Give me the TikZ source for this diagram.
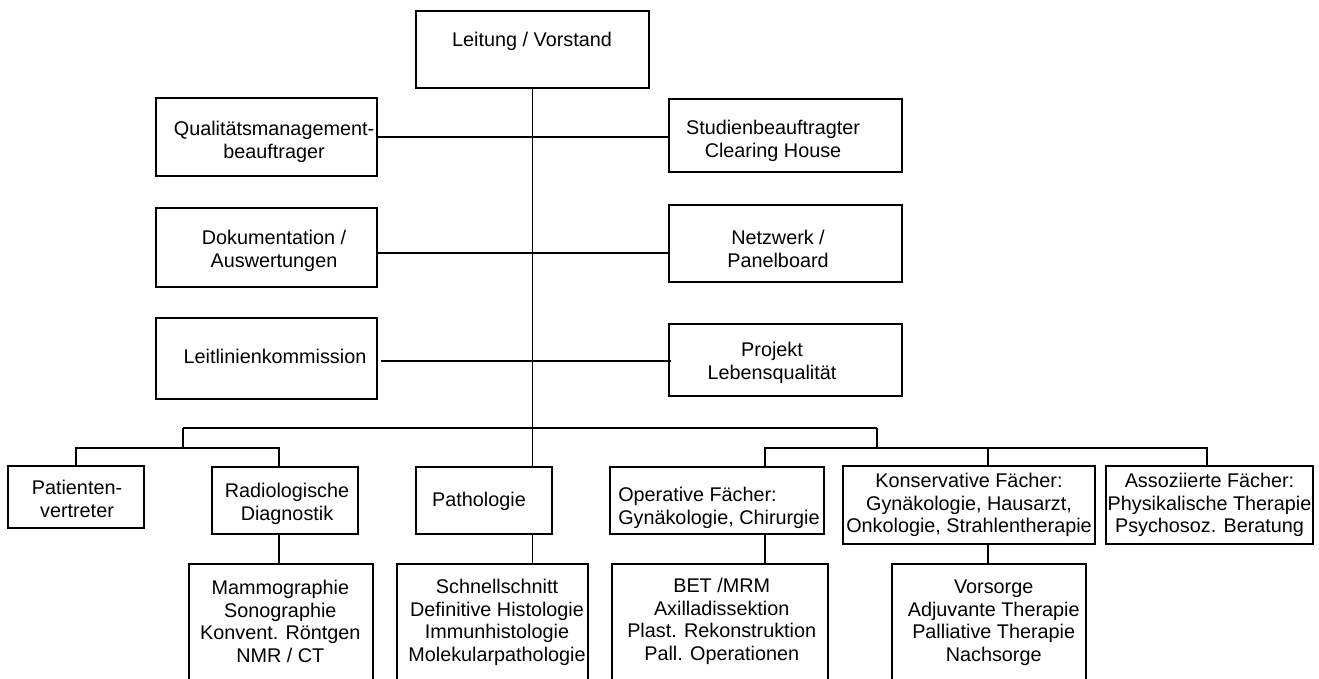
\documentclass[tikz,border=0pt]{standalone}
\usepackage{fontspec}
\setmainfont{Liberation Sans}
\usetikzlibrary{calc}
\begin{document}
\begin{tikzpicture}[x=0.75pt,y=-0.75pt,
  bx/.style 2 args={draw,line width=1.4pt,inner sep=0pt,minimum width=#1*0.75pt,minimum height=#2*0.75pt},
  txt/.style={inner sep=0pt,align=center,anchor=north,font=\fontsize{14.85pt}{16.95pt}\selectfont},
  conn/.style={line width=1.4pt}]
\useasboundingbox (0,0) rectangle (1319,678);
\fill[white] (0,0) rectangle (1319,678);
\clip (0,0) rectangle (1319,678);
% boxes
\node[bx={233}{77}] (lv) at (532.5,49.5) {};
\node[bx={221}{78}] (qm) at (266.5,137) {};
\node[bx={233}{73}] (sb) at (785.5,135.5) {};
\node[bx={221}{79}] (dk) at (266.5,247.5) {};
\node[bx={233}{77}] (nw) at (785.5,243.5) {};
\node[bx={221}{81}] (ll) at (266.5,358.5) {};
\node[bx={233}{72}] (pj) at (785.5,360) {};
\node[bx={136}{62}] (pv) at (76,497) {};
\node[bx={146}{67}] (rd) at (285,500.5) {};
\node[bx={136}{67}] (pa) at (484,500.5) {};
\node[bx={214}{67}] (op) at (717,500.5) {};
\node[bx={252}{78}] (ko) at (969,505) {};
\node[bx={207}{78}] (as) at (1209.5,505) {};
\node[bx={184}{140}] (mg) at (281,634) {};
\node[bx={191}{140}] (sc) at (492.5,634) {};
\node[bx={216}{140}] (bet) at (720,634) {};
\node[bx={194}{140}] (vs) at (989,634) {};
% texts
\node[txt] (lv-t) at (532,31.8) {Leitung / Vorstand};
\node[txt] (qm-t) at (274,120.8) {Qualitätsmanagement-\\beauftrager};
\node[txt] (sb-t) at (773,119.8) {Studienbeauftragter\\Clearing House};
\node[txt] (dk-t) at (274,229.8) {Dokumentation /\\Auswertungen};
\node[txt] (nw-t) at (778,229.8) {Netzwerk /\\Panelboard};
\node[txt] (ll-t) at (275,348.8) {Leitlinienkommission};
\node[txt] (pj-t) at (772,341.8) {Projekt\\Lebensqualität};
\node[txt] (pv-t) at (77,479.8) {Patienten-\\vertreter};
\node[txt] (rd-t) at (287,482.8) {Radiologische\\Diagnostik};
\node[txt] (pa-t) at (479,491.8) {Pathologie};
\node[txt,anchor=north west,align=left] (op-t) at (618,486.8) {Operative Fächer:\\Gynäkologie, Chirurgie};
\node[txt] (ko-t) at (969,472.8) {Konservative Fächer:\\Gynäkologie, Hausarzt,\\Onkologie, Strahlentherapie};
\node[txt] (as-t) at (1209.5,472.8) {Assoziierte Fächer:\\Physikalische Therapie\\Psychosoz. Beratung};
\node[txt] (mg-t) at (280.3,579.8) {Mammographie\\Sonographie\\Konvent. Röntgen\\NMR / CT};
\node[txt] (sc-t) at (497,578.8) {Schnellschnitt\\Definitive Histologie\\Immunhistologie\\Molekularpathologie};
\node[txt] (bet-t) at (721.7,577.8) {BET /MRM\\Axilladissektion\\Plast. Rekonstruktion\\Pall. Operationen};
\node[txt] (vs-t) at (993.7,579.8) {Vorsorge\\Adjuvante Therapie\\Palliative Therapie\\Nachsorge};
% connector coordinates
\coordinate (jl) at (183,428);
\coordinate (jr) at (877,428);
\coordinate (dPv) at (76,448);
\coordinate (dRd) at (279,448);
\coordinate (dOp) at (765,448);
\coordinate (dKo) at (988,448);
\coordinate (dAs) at (1207,448);
% connectors
\draw[conn] (lv.south) -- (lv.south |- pa.north);
\draw[conn] (qm.east) -- (qm.east -| sb.west);
\draw[conn] (dk.east |- 0,253) -- (nw.west |- 0,253);
\draw[conn] ($(ll.east |- 0,361)+(3,0)$) -- ($(pj.west |- 0,361)+(3,0)$);
\draw[conn] (jl) -- (jr);
\draw[conn] (dPv |- pv.north) -- (dPv) -| (jl);
\draw[conn] (jl |- dPv) -- (dRd) -- (dRd |- rd.north);
\draw[conn] (jr) -- (jr |- dOp);
\draw[conn] (dOp |- op.north) -- (dOp) -- (dAs) -- (dAs |- as.north);
\draw[conn] (dKo) -- (dKo |- ko.north);
\draw[conn] (dRd |- rd.south) -- (dRd |- mg.north);
\draw[conn] (lv.south |- pa.south) -- (lv.south |- sc.north);
\draw[conn] (dOp |- op.south) -- (dOp |- bet.north);
\draw[conn] (dKo |- ko.south) -- (dKo |- vs.north);
\end{tikzpicture}
\end{document}
